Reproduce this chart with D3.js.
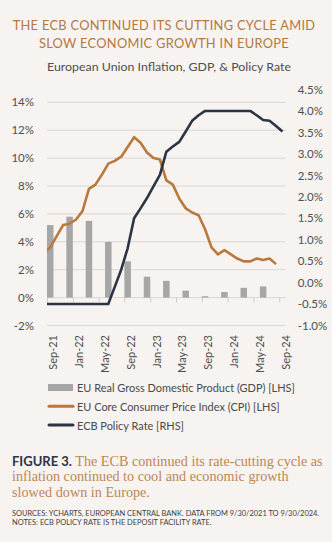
<html>
<head>
<script src="https://d3js.org/d3.v7.min.js"></script>
<style>
body { margin: 0; background: #f6f3f0; }
svg { display: block; }
</style>
</head>
<body>
<div id="chart"></div>
<script>
// month index 0 = Sep-21
var tickMonths = [0, 4, 8, 12, 16, 20, 24, 28, 32, 36];
var tickLabels = ["Sep-21", "Jan-22", "May-22", "Sep-22", "Jan-23", "May-23", "Sep-23", "Jan-24", "May-24", "Sep-24"];

// quarterly real GDP growth, Sep-21 .. Jun-24
var gdpMonths = [0, 3, 6, 9, 12, 15, 18, 21, 24, 27, 30, 33];
var gdpValues = [5.2, 5.8, 5.5, 4.0, 2.6, 1.5, 1.2, 0.5, 0.1, 0.4, 0.7, 0.8];

// monthly CPI, Aug-21 .. Aug-24 (first value is month -1)
var cpiStart = -1;
var cpiValues = [3.2, 3.6, 4.4, 5.2, 5.3, 5.6, 6.2, 7.8, 8.1, 8.8, 9.6, 9.8, 10.1, 10.8,
  11.5, 11.1, 10.4, 10.0, 9.9, 8.4, 8.1, 7.1, 6.4, 6.1, 5.9, 4.9, 3.6, 3.1, 3.4, 3.1,
  2.8, 2.6, 2.6, 2.8, 2.7, 2.8, 2.4];

// monthly ECB deposit rate, Aug-21 .. Sep-24
var policyStart = -1;
var policyValues = [-0.5, -0.5, -0.5, -0.5, -0.5, -0.5, -0.5, -0.5, -0.5, -0.5, -0.5,
  -0.1, 0.3, 0.8, 1.5, 1.73, 1.97, 2.24, 2.51, 3.05, 3.17, 3.28, 3.52, 3.77, 3.9,
  4.0, 4.0, 4.0, 4.0, 4.0, 4.0, 4.0, 4.0, 3.9, 3.79, 3.77, 3.65, 3.52];

var leftTicks = [-2, 0, 2, 4, 6, 8, 10, 12, 14];
var rightTicks = [-1, -0.5, 0, 0.5, 1, 1.5, 2, 2.5, 3, 3.5, 4, 4.5];

var W = 332, H = 542;
var sans = "Lato, 'Open Sans', sans-serif";
var serif = "'Liberation Serif', serif";

var svg = d3.select("#chart").append("svg")
  .attr("width", W)
  .attr("height", H);

svg.append("rect").attr("width", W).attr("height", H).attr("fill", "#f6f3f0");

function fit(sel, width) {
  var w = sel.node().getComputedTextLength();
  var fs = parseFloat(sel.attr("font-size"));
  sel.attr("font-size", fs * width / w);
  return fs * width / w;
}

// title
var t1 = svg.append("text").attr("x", 164).attr("y", 25)
  .attr("text-anchor", "middle").attr("dominant-baseline", "central")
  .attr("font-family", sans).attr("font-size", 13).attr("fill", "#b5783e")
  .attr("letter-spacing", "0.3")
  .text("THE ECB CONTINUED ITS CUTTING CYCLE AMID");
var titleSize = fit(t1, 303);
svg.append("text").attr("x", 164).attr("y", 43)
  .attr("text-anchor", "middle").attr("dominant-baseline", "central")
  .attr("font-family", sans).attr("font-size", titleSize).attr("fill", "#b5783e")
  .attr("letter-spacing", "0.3")
  .text("SLOW ECONOMIC GROWTH IN EUROPE");

var sub = svg.append("text").attr("x", 169).attr("y", 66)
  .attr("text-anchor", "middle").attr("dominant-baseline", "central")
  .attr("font-family", sans).attr("font-size", 12).attr("fill", "#4f4f4f")
  .text("European Union Inflation, GDP, & Policy Rate");
fit(sub, 244);

// scales
var x = d3.scaleLinear().domain([0, 37]).range([47, 285.7]);
var yL = d3.scaleLinear().domain([-2, 14]).range([325.5, 102.3]);
var yR = d3.scaleLinear().domain([-1, 4.5]).range([325.5, 89.5]);

// gridlines
svg.append("g").selectAll("line")
  .data(leftTicks)
  .enter().append("line")
  .attr("x1", x(0)).attr("x2", x(37))
  .attr("y1", function(d) { return yL(d); })
  .attr("y2", function(d) { return yL(d); })
  .attr("stroke", "#d9d7d4").attr("stroke-width", 1);

// left axis
var gl = svg.append("g").attr("transform", "translate(" + x(0) + ",0)")
  .call(d3.axisLeft(yL).tickValues(leftTicks).tickSize(0).tickPadding(13)
    .tickFormat(function(d) { return d + "%"; }));
gl.select(".domain").remove();
gl.selectAll("text").attr("font-family", sans).attr("font-size", 11.5).attr("fill", "#4f4f4f");

// right axis
var gr = svg.append("g").attr("transform", "translate(" + x(37) + ",0)")
  .call(d3.axisRight(yR).tickValues(rightTicks).tickSize(0).tickPadding(12)
    .tickFormat(function(d) { return d.toFixed(1) + "%"; }));
gr.select(".domain").remove();
gr.selectAll("text").attr("font-family", sans).attr("font-size", 11.5).attr("fill", "#4f4f4f");

// bottom axis: short ticks under 0% and rotated month labels
var gb = svg.append("g").attr("transform", "translate(0," + yL(0) + ")")
  .call(d3.axisBottom(x).tickValues(tickMonths).tickSize(5)
    .tickFormat(function(d, i) { return tickLabels[i]; }));
gb.select(".domain").remove();
gb.selectAll("line").attr("stroke", "#d0cdca");
gb.selectAll("text")
  .attr("x", 0).attr("y", 0).attr("dy", "0.35em")
  .attr("text-anchor", "end")
  .attr("transform", "translate(6," + (335 - yL(0)) + ") rotate(-90)")
  .attr("font-family", sans).attr("font-size", 11).attr("fill", "#4f4f4f");

// GDP bars
svg.append("g").selectAll("rect")
  .data(gdpValues)
  .enter().append("rect")
  .attr("x", function(d, i) { return x(gdpMonths[i] + 0.5) - 3.25; })
  .attr("width", 6.5)
  .attr("y", function(d) { return yL(Math.max(d, 0)); })
  .attr("height", function(d) { return Math.abs(yL(d) - yL(0)); })
  .attr("fill", "#a6a6a6");

// clip the lines to the plot
svg.append("clipPath").attr("id", "plot")
  .append("rect").attr("x", x(0)).attr("y", 0).attr("width", x(37) - x(0)).attr("height", H);

var cpiLine = d3.line()
  .x(function(d, i) { return x(cpiStart + i + 0.5); })
  .y(function(d) { return yL(d); });
var policyLine = d3.line()
  .x(function(d, i) { return x(policyStart + i + 0.5); })
  .y(function(d) { return yR(d); });

svg.append("path").datum(cpiValues)
  .attr("clip-path", "url(#plot)")
  .attr("d", cpiLine)
  .attr("fill", "none").attr("stroke", "#b8793b").attr("stroke-width", 2.6)
  .attr("stroke-linejoin", "round");

svg.append("path").datum(policyValues)
  .attr("clip-path", "url(#plot)")
  .attr("d", policyLine)
  .attr("fill", "none").attr("stroke", "#2c3544").attr("stroke-width", 2.6)
  .attr("stroke-linejoin", "round");

// legend
var legendItems = [
  { label: "EU Real Gross Domestic Product (GDP) [LHS]", type: "bar", color: "#a6a6a6" },
  { label: "EU Core Consumer Price Index (CPI) [LHS]", type: "line", color: "#b8793b" },
  { label: "ECB Policy Rate [RHS]", type: "line", color: "#2c3544" }
];
var legend = svg.append("g").selectAll("g")
  .data(legendItems)
  .enter().append("g")
  .attr("transform", function(d, i) { return "translate(0," + (387.5 + i * 18.8) + ")"; });
legend.filter(function(d) { return d.type == "bar"; })
  .append("rect").attr("x", 48).attr("y", -3.5).attr("width", 25).attr("height", 7)
  .attr("fill", function(d) { return d.color; });
legend.filter(function(d) { return d.type == "line"; })
  .append("line").attr("x1", 49).attr("x2", 73).attr("y1", 0).attr("y2", 0)
  .attr("stroke", function(d) { return d.color; }).attr("stroke-width", 3)
  .attr("stroke-linecap", "round");
var legendText = legend.append("text").attr("x", 77).attr("y", 0)
  .attr("dominant-baseline", "central")
  .attr("font-family", sans).attr("font-size", 11).attr("fill", "#4a4a4a")
  .text(function(d) { return d.label; });
var lfs = 11 * 218 / legendText.nodes()[0].getComputedTextLength();
legendText.attr("font-size", lfs);

// caption
var capLines = [
  "The ECB continued its rate-cutting cycle as",
  "inflation continued to cool and economic growth",
  "slowed down in Europe."
];
var c2 = svg.append("text").attr("x", 12).attr("y", 476)
  .attr("dominant-baseline", "central")
  .attr("font-family", serif).attr("font-size", 13).attr("fill", "#bf8752")
  .text(capLines[1]);
var capSize = fit(c2, 277);
var c1 = svg.append("text").attr("x", 12).attr("y", 460.5)
  .attr("dominant-baseline", "central");
c1.append("tspan")
  .attr("font-family", sans).attr("font-weight", "bold").attr("font-size", 13)
  .attr("fill", "#2c3446").text("FIGURE 3.");
c1.append("tspan")
  .attr("font-family", serif).attr("font-size", capSize).attr("fill", "#bf8752")
  .text(" " + capLines[0]);
svg.append("text").attr("x", 12).attr("y", 491.5)
  .attr("dominant-baseline", "central")
  .attr("font-family", serif).attr("font-size", capSize).attr("fill", "#bf8752")
  .text(capLines[2]);

var s1 = svg.append("text").attr("x", 12).attr("y", 513)
  .attr("dominant-baseline", "central")
  .attr("font-family", sans).attr("font-size", 8).attr("fill", "#3f3f3f")
  .text("SOURCES: YCHARTS, EUROPEAN CENTRAL BANK. DATA FROM 9/30/2021 TO 9/30/2024.");
var srcSize = fit(s1, 308);
svg.append("text").attr("x", 12).attr("y", 522)
  .attr("dominant-baseline", "central")
  .attr("font-family", sans).attr("font-size", srcSize).attr("fill", "#3f3f3f")
  .text("NOTES: ECB POLICY RATE IS THE DEPOSIT FACILITY RATE.");
</script>
</body>
</html>
